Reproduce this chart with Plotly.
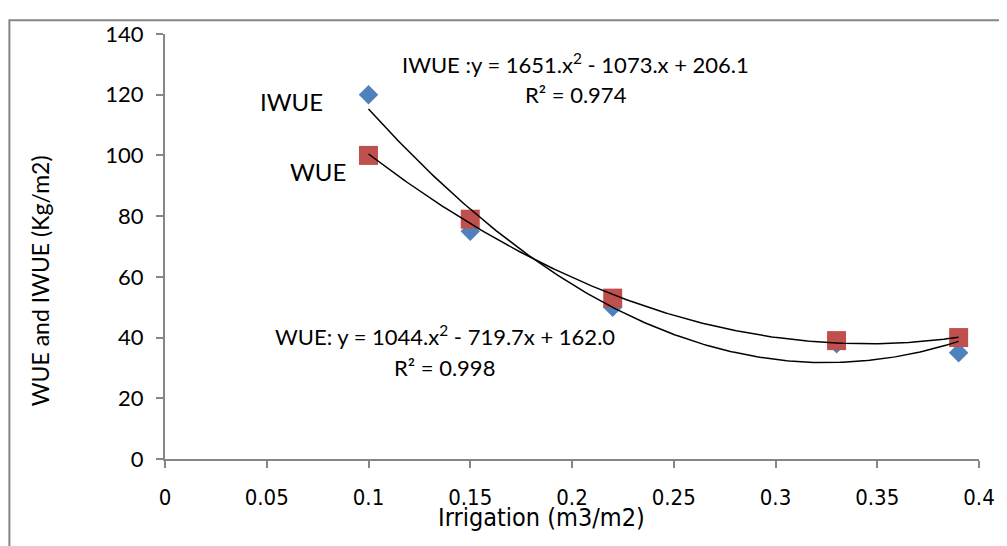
import numpy as np
import plotly.graph_objects as go

# Data
irrigation = [0.10, 0.15, 0.22, 0.33, 0.39]
iwue = [120, 75, 50, 38, 35]
wue = [100, 79, 53, 39, 40]

# Trendline coefficients (a, b, c) for y = a x^2 + b x + c, as printed on the chart
iwue_coef = [1651, -1073, 206.1]
wue_coef = [1044, -719.7, 162.0]

x_ticks = [0, 0.05, 0.1, 0.15, 0.2, 0.25, 0.3, 0.35, 0.4]
x_tick_labels = ["0", "0.05", "0.1", "0.15", "0.2", "0.25", "0.3", "0.35", "0.4"]
y_ticks = [0, 20, 40, 60, 80, 100, 120, 140]

BLUE = "#4F81BD"
RED = "#C0504D"
AXIS = "#868686"
FONT = "Lato"
NARROW = "DejaVu Sans Condensed, Liberation Sans Narrow, Arial Narrow, Roboto Condensed, Roboto"

xs = np.linspace(min(irrigation), max(irrigation), 200)
iwue_fit = np.polyval(iwue_coef, xs)
wue_fit = np.polyval(wue_coef, xs)

fig = go.Figure()
fig.add_trace(go.Scatter(x=irrigation, y=iwue, mode="markers", name="IWUE",
                         marker=dict(symbol="diamond", size=15, color=BLUE)))
fig.add_trace(go.Scatter(x=irrigation, y=wue, mode="markers", name="WUE",
                         marker=dict(symbol="square", size=19, color=RED)))
fig.add_trace(go.Scatter(x=xs, y=iwue_fit, mode="lines", line=dict(color="black", width=1.5),
                         hoverinfo="skip"))
fig.add_trace(go.Scatter(x=xs, y=wue_fit, mode="lines", line=dict(color="black", width=1.5),
                         hoverinfo="skip"))

OFF = 8  # page body margin
W, H = 1007 - OFF, 546 - OFF
L, T = 165 - OFF, 27 - OFF
R = W - (981 - OFF)
B = H - (459 - OFF)
pw, ph = W - L - R, H - T - B

def px(x):
    return (x - OFF - L) / pw

def py(y):
    return (H - B - (y - OFF)) / ph

fig.update_layout(
    width=W, height=H,
    margin=dict(l=L, r=R, t=T, b=B),
    paper_bgcolor="white", plot_bgcolor="white",
    showlegend=False,
    font=dict(family=FONT, size=20, color="black"),
    xaxis=dict(range=[0, 0.4], tickvals=x_ticks, ticktext=x_tick_labels,
               showgrid=False, zeroline=False, showline=True, linecolor=AXIS, linewidth=2,
               ticks="outside", ticklen=7, tickcolor=AXIS, tickwidth=1.5,
               tickfont=dict(family=NARROW, size=22, color="black"),
               ticklabelstandoff=11),
    yaxis=dict(range=[0, 140], tickvals=y_ticks,
               showgrid=False, zeroline=False, showline=True, linecolor=AXIS, linewidth=2,
               ticks="outside", ticklen=7, tickcolor=AXIS, tickwidth=1.5,
               tickfont=dict(family=FONT, size=22, color="black"),
               ticklabelstandoff=8),
)

ann = [
    dict(text="IWUE", x=px(292), y=py(96), font=dict(size=24)),
    dict(text="WUE", x=px(318), y=py(167), font=dict(size=24)),
    dict(text="IWUE :y = 1651.x<sup>2</sup> - 1073.x + 206.1", x=px(577), y=py(57), font=dict(size=22)),
    dict(text="R² = 0.974", x=px(577), y=py(89), font=dict(size=22)),
    dict(text="WUE: y = 1044.x<sup>2</sup> - 719.7x + 162.0", x=px(446), y=py(333), font=dict(size=22)),
    dict(text="R² = 0.998", x=px(445), y=py(366), font=dict(size=22)),
    dict(text="Irrigation (m3/m2)", x=px(542), y=py(518),
         font=dict(family=NARROW, size=25)),
    dict(text="WUE and IWUE (Kg/m2)", x=px(40), y=py(278), textangle=-90, font=dict(size=23)),
]
for a in ann:
    a.update(xref="paper", yref="paper", showarrow=False, xanchor="center", yanchor="middle")
    fig.add_annotation(**a)

# Outer chart frame (left and top edges visible; right/bottom fall outside the image)
fig.add_shape(type="rect", xref="paper", yref="paper",
              x0=px(9), y0=py(570), x1=px(1030), y1=py(13),
              line=dict(color=AXIS, width=2), fillcolor="rgba(0,0,0,0)", layer="below")

fig.write_html("out.html")
